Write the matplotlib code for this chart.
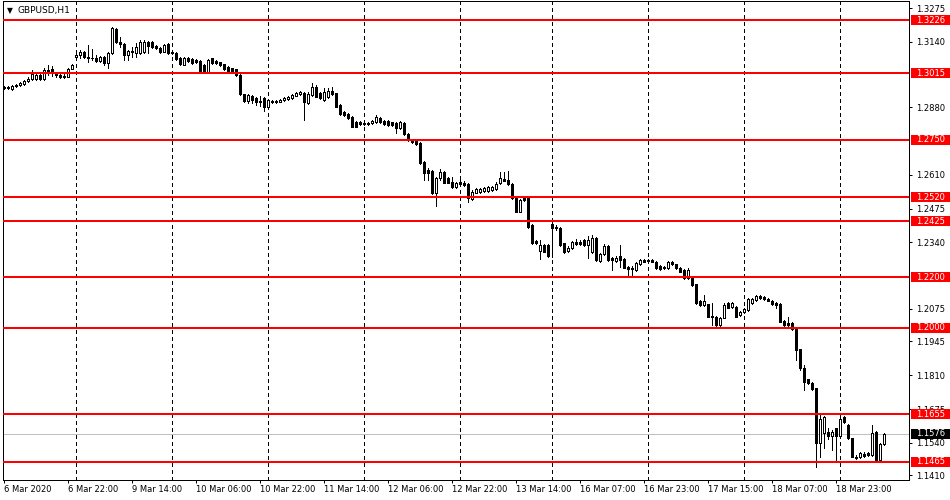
import matplotlib.pyplot as plt
import matplotlib.transforms as mtransforms
from matplotlib.patches import Rectangle
import numpy as np

plt.rcParams['font.family'] = ['DejaVu Sans']

# GBPUSD H1 candles, one value per bar
opens = [
    1.2960, 1.2956, 1.2952, 1.2964, 1.2968, 1.2972, 1.2984, 1.2992, 1.2992, 1.3008,
    1.2992, 1.3028, 1.3032, 1.3016, 1.3008, 1.3004, 1.3000, 1.3032, 1.3080, 1.3088,
    1.3100, 1.3080, 1.3076, 1.3076, 1.3064, 1.3080, 1.3056, 1.3096, 1.3191, 1.3139,
    1.3131, 1.3088, 1.3104, 1.3096, 1.3096, 1.3100, 1.3139, 1.3139, 1.3123, 1.3115,
    1.3101, 1.3131, 1.3100, 1.3096, 1.3077, 1.3048, 1.3076, 1.3072, 1.3068, 1.3064,
    1.3048, 1.3021, 1.3074, 1.3064, 1.3058, 1.3050, 1.3041, 1.3034, 1.3030, 1.3008,
    1.2930, 1.2904, 1.2925, 1.2915, 1.2904, 1.2915, 1.2881, 1.2904, 1.2903, 1.2901,
    1.2908, 1.2912, 1.2915, 1.2925, 1.2932, 1.2934, 1.2895, 1.2928, 1.2961, 1.2934,
    1.2908, 1.2921, 1.2944, 1.2934, 1.2888, 1.2859, 1.2851, 1.2841, 1.2821, 1.2819,
    1.2815, 1.2816, 1.2815, 1.2819, 1.2835, 1.2824, 1.2824, 1.2819, 1.2817, 1.2796,
    1.2817, 1.2772, 1.2748, 1.2751, 1.2737, 1.2662, 1.2629, 1.2626, 1.2538, 1.2595,
    1.2622, 1.2595, 1.2582, 1.2560, 1.2582, 1.2578, 1.2573, 1.2512, 1.2538, 1.2542,
    1.2546, 1.2546, 1.2549, 1.2552, 1.2575, 1.2592, 1.2589, 1.2573, 1.2516, 1.2462,
    1.2516, 1.2516, 1.2409, 1.2346, 1.2307, 1.2329, 1.2329, 1.2415, 1.2402, 1.2396,
    1.2336, 1.2306, 1.2316, 1.2342, 1.2341, 1.2349, 1.2329, 1.2300, 1.2358, 1.2266,
    1.2292, 1.2327, 1.2276, 1.2266, 1.2284, 1.2274, 1.2243, 1.2232, 1.2230, 1.2252,
    1.2270, 1.2270, 1.2270, 1.2263, 1.2247, 1.2243, 1.2236, 1.2263, 1.2252, 1.2239,
    1.2230, 1.2196, 1.2203, 1.2173, 1.2106, 1.2090, 1.2093, 1.2047, 1.2043, 1.2010,
    1.2039, 1.2097, 1.2083, 1.2083, 1.2050, 1.2061, 1.2070, 1.2097, 1.2110, 1.2127,
    1.2121, 1.2113, 1.2107, 1.2099, 1.2094, 1.2027, 1.2019, 1.2019, 1.1993, 1.1913,
    1.1840, 1.1794, 1.1780, 1.1758, 1.1538, 1.1580, 1.1584, 1.1567, 1.1598, 1.1567,
    1.1644, 1.1611, 1.1558, 1.1485, 1.1482, 1.1496, 1.1499, 1.1492, 1.1584, 1.1472,
    1.1536,
]
highs = [
    1.2964, 1.2964, 1.2968, 1.2972, 1.2981, 1.2988, 1.3000, 1.3028, 1.3016, 1.3020,
    1.3036, 1.3048, 1.3044, 1.3018, 1.3012, 1.3012, 1.3036, 1.3052, 1.3100, 1.3108,
    1.3104, 1.3127, 1.3111, 1.3088, 1.3084, 1.3084, 1.3100, 1.3199, 1.3195, 1.3159,
    1.3135, 1.3108, 1.3119, 1.3135, 1.3147, 1.3147, 1.3143, 1.3143, 1.3127, 1.3119,
    1.3131, 1.3135, 1.3104, 1.3100, 1.3080, 1.3080, 1.3080, 1.3076, 1.3072, 1.3068,
    1.3052, 1.3072, 1.3077, 1.3068, 1.3060, 1.3052, 1.3044, 1.3036, 1.3032, 1.3012,
    1.2932, 1.2932, 1.2928, 1.2921, 1.2924, 1.2920, 1.2912, 1.2908, 1.2908, 1.2912,
    1.2920, 1.2924, 1.2932, 1.2940, 1.2944, 1.2940, 1.2941, 1.2975, 1.2968, 1.2940,
    1.2955, 1.2955, 1.2961, 1.2936, 1.2892, 1.2864, 1.2856, 1.2844, 1.2824, 1.2824,
    1.2820, 1.2820, 1.2828, 1.2848, 1.2840, 1.2828, 1.2828, 1.2820, 1.2820, 1.2824,
    1.2820, 1.2776, 1.2752, 1.2752, 1.2740, 1.2665, 1.2637, 1.2629, 1.2601, 1.2633,
    1.2625, 1.2601, 1.2602, 1.2581, 1.2589, 1.2585, 1.2577, 1.2549, 1.2557, 1.2558,
    1.2561, 1.2565, 1.2565, 1.2581, 1.2622, 1.2622, 1.2625, 1.2577, 1.2517, 1.2513,
    1.2521, 1.2517, 1.2413, 1.2349, 1.2349, 1.2333, 1.2333, 1.2421, 1.2409, 1.2401,
    1.2337, 1.2325, 1.2345, 1.2353, 1.2349, 1.2353, 1.2365, 1.2369, 1.2361, 1.2298,
    1.2333, 1.2329, 1.2282, 1.2286, 1.2329, 1.2278, 1.2246, 1.2246, 1.2262, 1.2274,
    1.2274, 1.2274, 1.2274, 1.2266, 1.2250, 1.2246, 1.2266, 1.2266, 1.2254, 1.2242,
    1.2234, 1.2238, 1.2206, 1.2174, 1.2110, 1.2130, 1.2094, 1.2097, 1.2046, 1.2042,
    1.2098, 1.2102, 1.2102, 1.2086, 1.2066, 1.2078, 1.2118, 1.2118, 1.2130, 1.2130,
    1.2126, 1.2118, 1.2110, 1.2102, 1.2098, 1.2030, 1.2041, 1.2022, 1.1994, 1.1915,
    1.1851, 1.1795, 1.1783, 1.1759, 1.1651, 1.1647, 1.1598, 1.1591, 1.1599, 1.1651,
    1.1647, 1.1615, 1.1559, 1.1492, 1.1504, 1.1504, 1.1504, 1.1611, 1.1587, 1.1539,
    1.1579,
]
lows = [
    1.2952, 1.2952, 1.2948, 1.2960, 1.2964, 1.2968, 1.2980, 1.2988, 1.2988, 1.2988,
    1.2988, 1.3008, 1.3004, 1.3000, 1.2996, 1.2996, 1.2998, 1.3030, 1.3076, 1.3076,
    1.3076, 1.3060, 1.3068, 1.3060, 1.3060, 1.3048, 1.3036, 1.3092, 1.3135, 1.3119,
    1.3068, 1.3068, 1.3080, 1.3080, 1.3092, 1.3096, 1.3096, 1.3115, 1.3111, 1.3096,
    1.3100, 1.3092, 1.3092, 1.3068, 1.3048, 1.3046, 1.3060, 1.3052, 1.3056, 1.3020,
    1.3020, 1.3020, 1.3052, 1.3052, 1.3044, 1.3028, 1.3020, 1.3020, 1.3004, 1.2928,
    1.2900, 1.2896, 1.2896, 1.2888, 1.2884, 1.2864, 1.2880, 1.2896, 1.2896, 1.2900,
    1.2904, 1.2908, 1.2912, 1.2924, 1.2928, 1.2828, 1.2892, 1.2924, 1.2920, 1.2912,
    1.2904, 1.2915, 1.2928, 1.2880, 1.2848, 1.2844, 1.2832, 1.2800, 1.2800, 1.2808,
    1.2808, 1.2808, 1.2812, 1.2816, 1.2816, 1.2808, 1.2804, 1.2804, 1.2776, 1.2792,
    1.2768, 1.2744, 1.2736, 1.2728, 1.2652, 1.2589, 1.2589, 1.2532, 1.2485, 1.2589,
    1.2577, 1.2577, 1.2557, 1.2557, 1.2569, 1.2565, 1.2502, 1.2509, 1.2537, 1.2537,
    1.2541, 1.2541, 1.2545, 1.2549, 1.2573, 1.2585, 1.2569, 1.2513, 1.2461, 1.2461,
    1.2505, 1.2397, 1.2333, 1.2333, 1.2272, 1.2302, 1.2282, 1.2283, 1.2389, 1.2325,
    1.2298, 1.2302, 1.2313, 1.2329, 1.2329, 1.2325, 1.2276, 1.2298, 1.2266, 1.2262,
    1.2290, 1.2266, 1.2230, 1.2262, 1.2243, 1.2238, 1.2210, 1.2210, 1.2226, 1.2250,
    1.2262, 1.2262, 1.2262, 1.2234, 1.2230, 1.2234, 1.2234, 1.2250, 1.2234, 1.2222,
    1.2194, 1.2194, 1.2166, 1.2094, 1.2086, 1.2086, 1.2042, 1.2010, 1.2008, 1.2006,
    1.2038, 1.2078, 1.2078, 1.2042, 1.2046, 1.2058, 1.2066, 1.2094, 1.2106, 1.2114,
    1.2110, 1.2106, 1.2092, 1.2077, 1.2022, 1.2006, 1.2006, 1.1990, 1.1871, 1.1831,
    1.1751, 1.1775, 1.1751, 1.1445, 1.1485, 1.1518, 1.1554, 1.1512, 1.1465, 1.1563,
    1.1619, 1.1555, 1.1484, 1.1476, 1.1480, 1.1484, 1.1488, 1.1488, 1.1468, 1.1468,
    1.1532,
]
closes = [
    1.2956, 1.2958, 1.2964, 1.2968, 1.2976, 1.2984, 1.2992, 1.3012, 1.3008, 1.2992,
    1.3028, 1.3024, 1.3016, 1.3008, 1.3000, 1.3000, 1.3032, 1.3048, 1.3086, 1.3100,
    1.3080, 1.3076, 1.3074, 1.3064, 1.3080, 1.3056, 1.3096, 1.3195, 1.3139, 1.3131,
    1.3088, 1.3104, 1.3100, 1.3119, 1.3139, 1.3139, 1.3123, 1.3121, 1.3115, 1.3101,
    1.3127, 1.3096, 1.3094, 1.3072, 1.3050, 1.3077, 1.3064, 1.3054, 1.3058, 1.3024,
    1.3021, 1.3068, 1.3054, 1.3054, 1.3048, 1.3033, 1.3021, 1.3021, 1.3008, 1.2930,
    1.2904, 1.2928, 1.2908, 1.2901, 1.2900, 1.2881, 1.2908, 1.2899, 1.2899, 1.2908,
    1.2916, 1.2921, 1.2928, 1.2934, 1.2939, 1.2901, 1.2930, 1.2961, 1.2921, 1.2915,
    1.2939, 1.2944, 1.2930, 1.2881, 1.2851, 1.2848, 1.2835, 1.2801, 1.2801, 1.2811,
    1.2811, 1.2811, 1.2824, 1.2841, 1.2819, 1.2811, 1.2808, 1.2808, 1.2796, 1.2821,
    1.2772, 1.2748, 1.2741, 1.2731, 1.2655, 1.2618, 1.2618, 1.2535, 1.2595, 1.2622,
    1.2578, 1.2578, 1.2562, 1.2578, 1.2573, 1.2569, 1.2516, 1.2542, 1.2552, 1.2554,
    1.2555, 1.2559, 1.2559, 1.2573, 1.2595, 1.2586, 1.2573, 1.2516, 1.2462, 1.2509,
    1.2509, 1.2400, 1.2336, 1.2336, 1.2329, 1.2303, 1.2286, 1.2397, 1.2396, 1.2329,
    1.2303, 1.2319, 1.2342, 1.2332, 1.2332, 1.2329, 1.2349, 1.2358, 1.2270, 1.2292,
    1.2327, 1.2270, 1.2270, 1.2279, 1.2270, 1.2239, 1.2234, 1.2236, 1.2256, 1.2270,
    1.2263, 1.2266, 1.2263, 1.2236, 1.2234, 1.2236, 1.2260, 1.2252, 1.2236, 1.2223,
    1.2196, 1.2230, 1.2170, 1.2097, 1.2090, 1.2106, 1.2043, 1.2043, 1.2010, 1.2039,
    1.2090, 1.2079, 1.2097, 1.2043, 1.2061, 1.2074, 1.2114, 1.2114, 1.2127, 1.2117,
    1.2113, 1.2107, 1.2094, 1.2090, 1.2023, 1.2010, 1.2010, 1.1993, 1.1911, 1.1837,
    1.1784, 1.1778, 1.1754, 1.1538, 1.1634, 1.1644, 1.1567, 1.1584, 1.1567, 1.1634,
    1.1624, 1.1558, 1.1485, 1.1478, 1.1501, 1.1488, 1.1492, 1.1580, 1.1472, 1.1536,
    1.1576,
]

levels = [1.3226, 1.3015, 1.2750, 1.2520, 1.2425, 1.2200, 1.2000, 1.1655, 1.1465]
last_price = 1.1576
price_ticks = [1.3275, 1.3140, 1.2880, 1.2610, 1.2475, 1.2340, 1.2075, 1.1945,
               1.1810, 1.1675, 1.1540, 1.1410]
time_tick_bars = [0, 16, 32, 48, 64, 80, 96, 112, 128, 144, 160, 176, 192, 208]
time_tick_labels = ['6 Mar 2020', '6 Mar 22:00', '9 Mar 14:00', '10 Mar 06:00',
                    '10 Mar 22:00', '11 Mar 14:00', '12 Mar 06:00', '12 Mar 22:00',
                    '13 Mar 14:00', '16 Mar 07:00', '16 Mar 23:00', '17 Mar 15:00',
                    '18 Mar 07:00', '18 Mar 23:00']
day_separators = [18, 42, 66, 90, 114, 137, 161, 185, 209]

o = np.array(opens)
h = np.array(highs)
l = np.array(lows)
c = np.array(closes)
x = np.arange(len(c))

px = 0.72  # one pixel in points at 100 dpi

fig = plt.figure(figsize=(9.5, 5), dpi=100)
ax = fig.add_axes([2.7 / 950, 20 / 500, 906.3 / 950, 479 / 500])
ymin, ymax = 1.13918, 1.33030
ax.set_xlim(-0.25, 226.325)
ax.set_ylim(ymin, ymax)
unit_px = 479 / (ymax - ymin)

for s in ax.spines.values():
    s.set_color('black')
    s.set_linewidth(px)

for d in day_separators:
    ax.axvline(d, color='black', linewidth=px, linestyle=(0, (3, 3)), zorder=1,
               antialiased=False)

ax.axhline(last_price, color='#c0c0c0', linewidth=px, zorder=2, antialiased=False)

up = c >= o
ax.vlines(x, l, h, color='black', linewidth=px, zorder=3, antialiased=False)
ax.bar(x, np.abs(c - o), bottom=np.minimum(o, c), width=0.5,
       color=np.where(up, 'white', 'black'), edgecolor='black', linewidth=px,
       zorder=4, antialiased=False)

for lv in levels:
    ax.axhline(lv, color='#ff0000', linewidth=2 * px, zorder=5, antialiased=False)

ax.yaxis.tick_right()
ax.set_yticks(price_ticks)
ax.set_yticklabels(['%.4f' % p for p in price_ticks])
ax.tick_params(axis='y', length=2.2, width=px, pad=2.8, labelsize=6, colors='black')

ax.set_xticks(time_tick_bars)
ax.set_xticklabels(time_tick_labels)
ax.tick_params(axis='x', length=2.2, width=px, pad=1.5, labelsize=6)
for lbl in ax.get_xticklabels():
    lbl.set_horizontalalignment('left')

# price labels on the scale
trans = mtransforms.blended_transform_factory(fig.transFigure, ax.transData)
box_h = 10 / unit_px
for lv in levels:
    ax.add_patch(Rectangle((911 / 950, lv - box_h / 2), 39 / 950, box_h, transform=trans,
                           facecolor='#ff0000', edgecolor='none', clip_on=False, zorder=6))
    ax.text(916 / 950, lv, '%.4f' % lv, transform=trans, color='white', fontsize=6,
            va='center', ha='left', zorder=7)
ax.add_patch(Rectangle((911 / 950, last_price - box_h / 2), 39 / 950, box_h, transform=trans,
                       facecolor='black', edgecolor='none', clip_on=False, zorder=6))
ax.text(916 / 950, last_price, '%.4f' % last_price, transform=trans, color='white',
        fontsize=6, va='center', ha='left', zorder=7)

fig.text(6.5 / 950, 1 - 10.5 / 500, '\u25bc', fontsize=5.5, va='center', ha='left')
fig.text(18 / 950, 1 - 10.5 / 500, 'GBPUSD,H1', fontsize=6.5, va='center', ha='left')

fig.savefig('out.png', dpi=100, facecolor='white')
plt.close()
